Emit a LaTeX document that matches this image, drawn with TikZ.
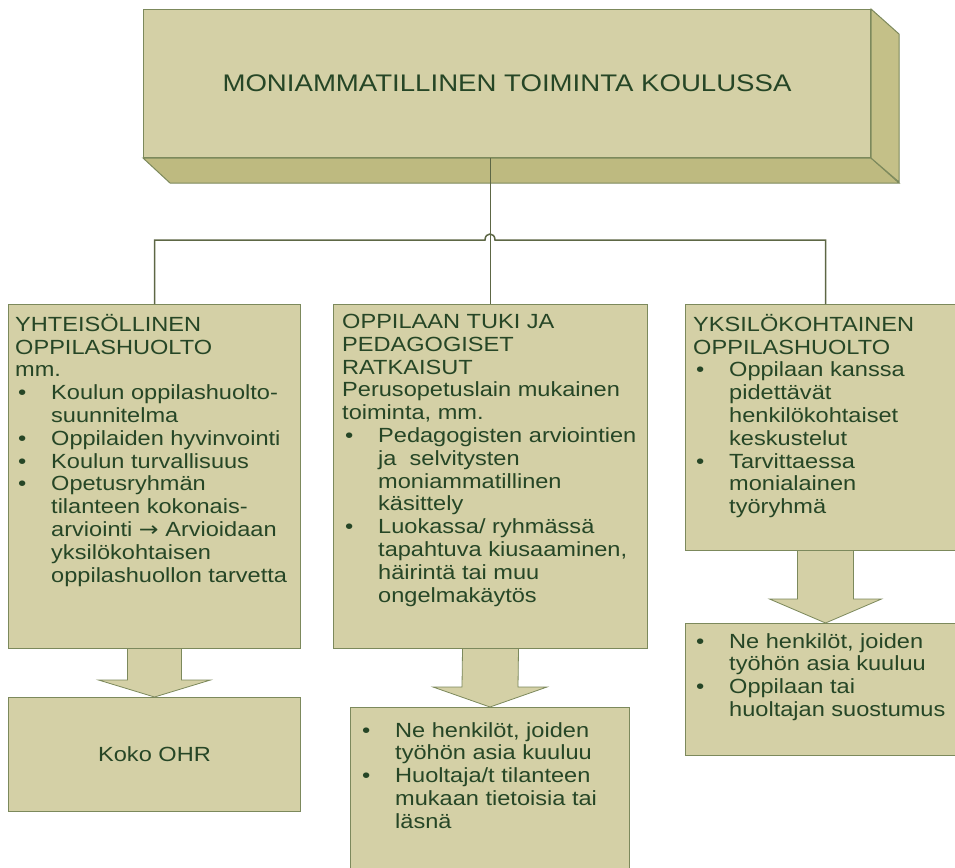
\documentclass[tikz,border=0pt]{standalone}
\usepackage{fontspec}
\setmainfont{Liberation Sans}[FakeStretch=1.15]
\newfontfamily\symfont{DejaVu Sans}[FakeStretch=1.15]
\usepackage{tikz}
\usetikzlibrary{calc,positioning}
\definecolor{boxfill}{RGB}{212,208,166}
\definecolor{boxline}{RGB}{124,137,92}
\definecolor{sidedark}{RGB}{190,186,128}
\definecolor{sidelight}{RGB}{196,192,136}
\definecolor{textgreen}{RGB}{38,70,38}
\newcommand{\bitem}{\makebox[36pt][l]{\hspace{3pt}\textbullet}}
\newcommand{\bcont}{\hspace*{36pt}}

\begin{document}
\begin{tikzpicture}[x=1pt,y=-1pt,
    box/.style={draw=boxline, fill=boxfill, line width=1pt, rectangle, inner sep=0pt, anchor=north west, text=textgreen},
    txt/.style={text=textgreen, align=left, inner sep=0pt, font=\fontsize{20.5}{22.8}\selectfont},
    conn/.style={draw=boxline!75!black, line width=1.5pt},
    blockarrow/.style={draw=boxline, fill=boxfill, line width=0.8pt, line join=miter}]
                \useasboundingbox (0,0) rectangle (955,867);
                \clip (0,0) rectangle (955,867);
                %Top box
                \node[box, minimum width=727pt, minimum height=148pt, font=\fontsize{24}{28}\selectfont] (title) at (143,9) {MONIAMMATILLINEN TOIMINTA KOULUSSA};
                %Shade
                \filldraw[draw=boxline, fill=sidedark, line width=1pt] (title.south west) -- (title.south east) -- ++(28,25) -- ($(title.south west)+(27,25)$) -- cycle;
                \filldraw[draw=boxline, fill=sidelight, line width=1pt] (title.north east) -- ++(28,25) -- ++(0,148) -- (title.south east) -- cycle;
                %Boxes
                \node[box, minimum width=292pt, minimum height=344pt] (yht) at (8,304) {};
                \node[box, minimum width=314pt, minimum height=344pt] (tuki) at (333,304) {};
                \node[box, minimum width=280pt, minimum height=246pt] (yks) at (685,304) {};
                \node[box, minimum width=292pt, minimum height=114pt, font=\fontsize{20.5}{22.8}\selectfont] (koko) at (8,697) {Koko OHR};
                \node[box, minimum width=279pt, minimum height=175pt] (tukiout) at (350,707) {};
                \node[box, minimum width=280pt, minimum height=132pt] (yksout) at (685,623) {};
                %Connectors
                \coordinate (hopl) at (485,240);
                \coordinate (hopr) at (495,240);
                \draw[conn] (title.south -| tuki.north) -- (tuki.north);
                \draw[conn] (yht.north) |- (hopl) .. controls +(0,-8) and +(0,-8) .. (hopr) -| (yks.north);
                %Block arrows
                \filldraw[blockarrow] ($(yht.south)+(-27,0)$) -- ($(koko.north)+(-27,-17)$) -- ($(koko.north)+(-56,-17)$) -- (koko.north) -- ($(koko.north)+(56,-17)$) -- ($(koko.north)+(27,-17)$) -- ($(yht.south)+(27,0)$);
                \filldraw[blockarrow] ($(tuki.south)+(-28,0)$) -- ($(tukiout.north)+(-28,-20)$) -- ($(tukiout.north)+(-57,-20)$) -- (tukiout.north) -- ($(tukiout.north)+(57,-20)$) -- ($(tukiout.north)+(28,-20)$) -- ($(tuki.south)+(28,0)$);
                \filldraw[blockarrow] ($(yks.south)+(-28,0)$) -- ($(yksout.north)+(-28,-24)$) -- ($(yksout.north)+(-56,-24)$) -- (yksout.north) -- ($(yksout.north)+(56,-24)$) -- ($(yksout.north)+(28,-24)$) -- ($(yks.south)+(28,0)$);
                %Texts
                \node[txt, below right=10pt and 7pt of yht.north west] (yhttext) {YHTEISÖLLINEN\\
                    OPPILASHUOLTO\\
                    mm.\\
                    \bitem Koulun oppilashuolto-\\
                    \bcont suunnitelma\\
                    \bitem Oppilaiden hyvinvointi\\
                    \bitem Koulun turvallisuus\\
                    \bitem Opetusryhmän\\
                    \bcont tilanteen kokonais-\\
                    \bcont arviointi {\symfont →} Arvioidaan\\
                    \bcont yksilökohtaisen\\
                    \bcont oppilashuollon tarvetta};
                \node[txt, below right=10pt and 9pt of tuki.north west] (tukitext) {OPPILAAN TUKI JA\\
                    PEDAGOGISET\\
                    RATKAISUT\\
                    Perusopetuslain mukainen\\
                    toiminta, mm.\\
                    \bitem Pedagogisten arviointien\\
                    \bcont ja~~selvitysten\\
                    \bcont moniammatillinen\\
                    \bcont käsittely\\
                    \bitem Luokassa/ ryhmässä\\
                    \bcont tapahtuva kiusaaminen,\\
                    \bcont häirintä tai muu\\
                    \bcont ongelmakäytös};
                \node[txt, below right=10pt and 8pt of yks.north west] (ykstext) {YKSILÖKOHTAINEN\\
                    OPPILASHUOLTO\\
                    \bitem Oppilaan kanssa\\
                    \bcont pidettävät\\
                    \bcont henkilökohtaiset\\
                    \bcont keskustelut\\
                    \bitem Tarvittaessa\\
                    \bcont monialainen\\
                    \bcont työryhmä};
                \node[txt, below right=15pt and 9pt of tukiout.north west] (tukiouttext) {\bitem Ne henkilöt, joiden\\
                    \bcont työhön asia kuuluu\\
                    \bitem Huoltaja/t tilanteen\\
                    \bcont mukaan tietoisia tai\\
                    \bcont läsnä};
                \node[txt, below right=10pt and 8pt of yksout.north west] (yksouttext) {\bitem Ne henkilöt, joiden\\
                    \bcont työhön asia kuuluu\\
                    \bitem Oppilaan tai\\
                    \bcont huoltajan suostumus};
            \end{tikzpicture}
\end{document}
